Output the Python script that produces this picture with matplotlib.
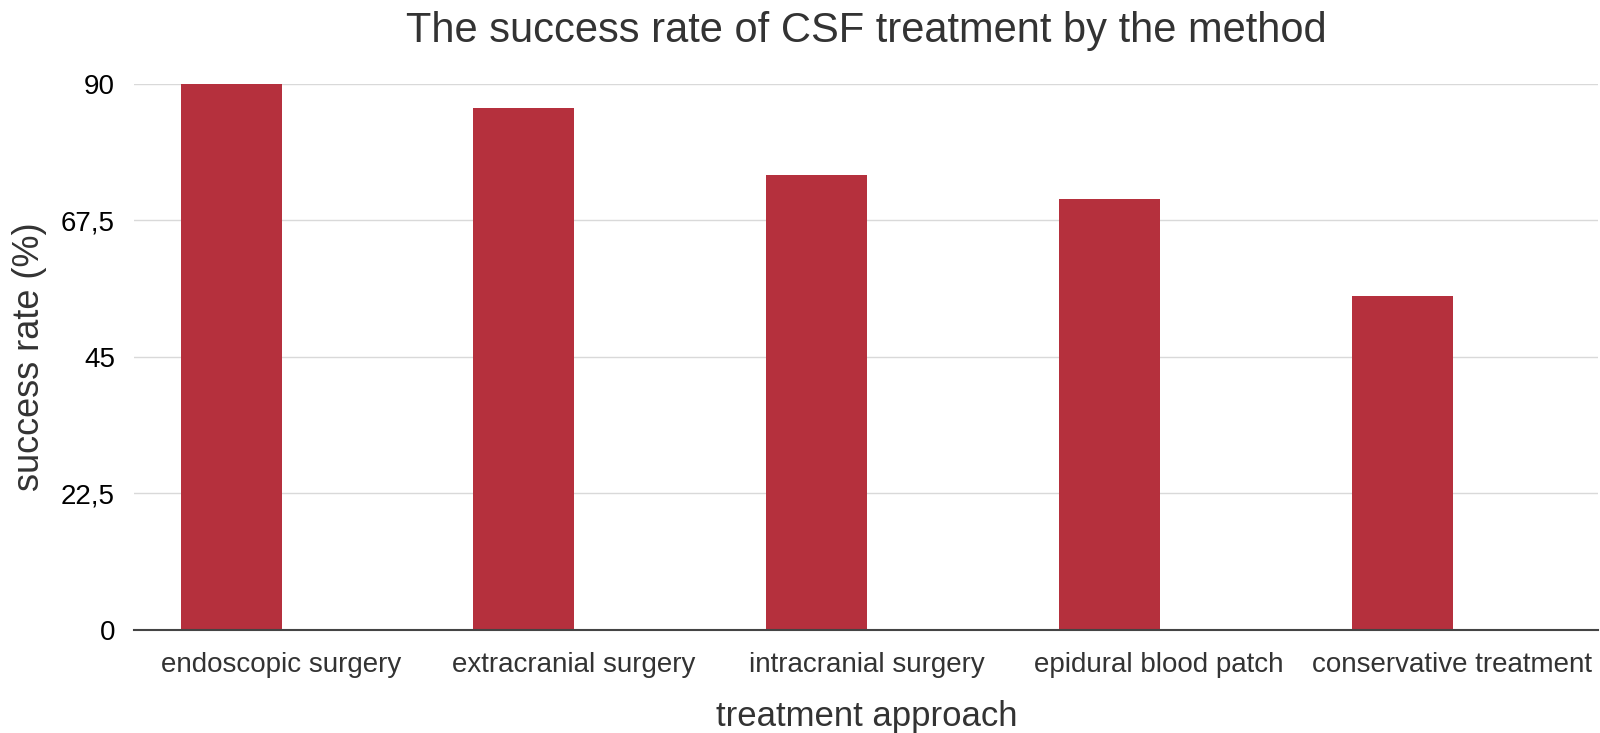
import matplotlib
matplotlib.use('Agg')
import matplotlib.pyplot as plt

methods = ['endoscopic surgery', 'extracranial surgery', 'intracranial surgery',
           'epidural blood patch', 'conservative treatment']
success_rate = [90, 86, 75, 71, 55]
yticks = [0, 22.5, 45, 67.5, 90]
ytick_labels = ['0', '22,5', '45', '67,5', '90']

plt.rcParams['font.family'] = ['Liberation Sans', 'DejaVu Sans']

fig = plt.figure(figsize=(16, 7.33), dpi=100)
ax = fig.add_axes([0.084, 0.141, 0.915, 0.745])

# bars sit left of the category centre, as in the original sheet chart
x = [i - 0.17 for i in range(len(methods))]
ax.bar(x, success_rate, width=0.345, color='#b5303d', zorder=3)

ax.set_xlim(-0.5, len(methods) - 0.5)
ax.set_ylim(0, 90)
ax.set_yticks(yticks)
ax.set_yticklabels(ytick_labels)
ax.set_xticks(range(len(methods)))
ax.set_xticklabels(methods, color='#333333', fontsize=20)
ax.tick_params(axis='y', labelsize=20, length=0, pad=14, labelcolor='black')
ax.tick_params(axis='x', length=0, pad=16)

ax.grid(axis='y', color='#d9d9d9', linewidth=1, zorder=0)
for side in ['top', 'right', 'left']:
    ax.spines[side].set_visible(False)
ax.spines['bottom'].set_color('#444444')
ax.spines['bottom'].set_linewidth(1.5)
ax.spines['bottom'].set_zorder(4)

ax.set_title('The success rate of CSF treatment by the method', fontsize=30,
             color='#333333', pad=30)
ax.set_xlabel('treatment approach', fontsize=25, color='#333333', labelpad=16)
ax.set_ylabel('success rate (%)', fontsize=26, color='#333333', labelpad=10)

fig.savefig('out.png', dpi=100, facecolor='white')
